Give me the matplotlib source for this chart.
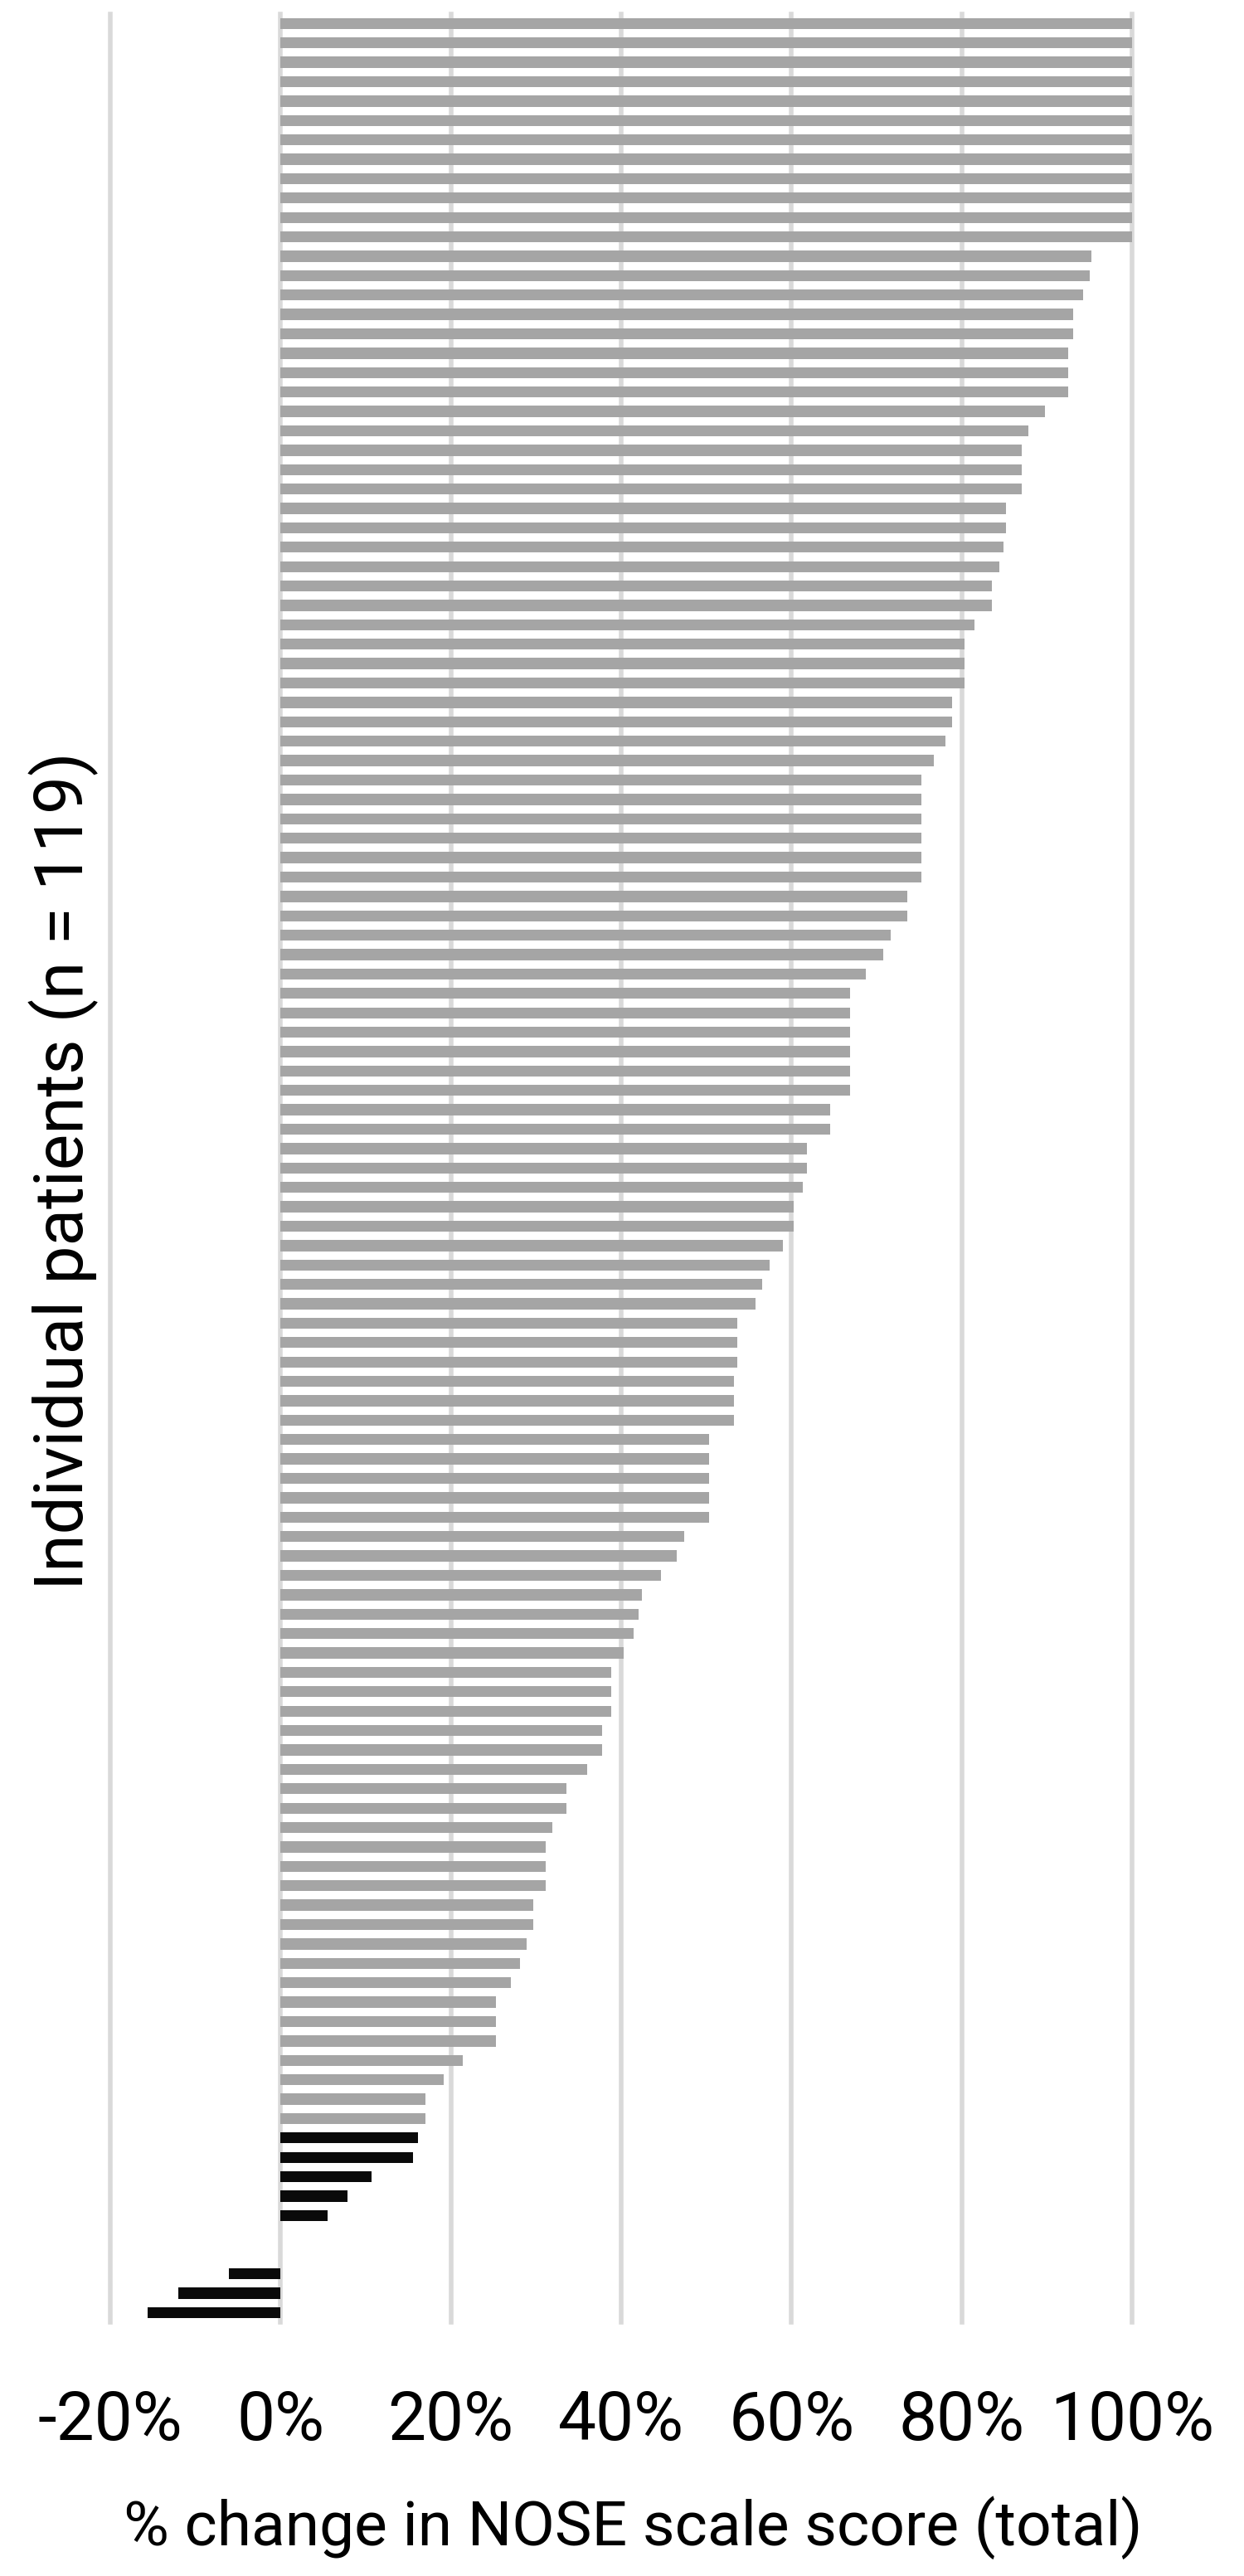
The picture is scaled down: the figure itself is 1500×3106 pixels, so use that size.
import matplotlib
matplotlib.use("Agg")
import matplotlib.pyplot as plt

# % change in NOSE scale score per patient (top to bottom, as shown)
pct_change = [
    100, 100, 100, 100, 100, 100, 100, 100, 100, 100, 100, 100,
    95.2, 95.0, 94.3, 93.1, 93.1, 92.5, 92.5, 92.5, 89.8, 87.8, 87.0, 87.0,
    87.0, 85.2, 85.2, 84.9, 84.4, 83.5, 83.5, 81.5, 80.3, 80.3, 80.3, 78.9,
    78.9, 78.1, 76.7, 75.3, 75.3, 75.3, 75.3, 75.3, 75.3, 73.6, 73.6, 71.7,
    70.8, 68.7, 66.9, 66.9, 66.9, 66.9, 66.9, 66.9, 64.5, 64.5, 61.8, 61.8,
    61.3, 60.3, 60.3, 59.0, 57.4, 56.6, 55.8, 53.6, 53.6, 53.6, 53.2, 53.2,
    53.2, 50.3, 50.3, 50.3, 50.3, 50.3, 47.4, 46.5, 44.7, 42.4, 42.0, 41.5,
    40.3, 38.8, 38.8, 38.8, 37.8, 37.8, 36.0, 33.6, 33.6, 31.9, 31.1, 31.1,
    31.1, 29.7, 29.7, 28.9, 28.1, 27.0, 25.3, 25.3, 25.3, 21.4, 19.2, 17.0,
    17.0, 16.1, 15.6, 10.7, 7.9, 5.5, 0.0, 0.0, -6.1, -12.0, -15.6,
]
# group of each bar: "above" = grey bars, "below" = black bars
group = ["above"] * 109 + ["below"] * 10

x_ticks = [-20, 0, 20, 40, 60, 80, 100]
x_tick_labels = ["-20%", "0%", "20%", "40%", "60%", "80%", "100%"]
x_title = "% change in NOSE scale score (total)"
y_title = "Individual patients (n = 119)"

group_colors = {"above": "#A5A5A5", "below": "#0A0A0A"}

plt.rcParams['font.family'] = ['Roboto', 'DejaVu Sans']

fig = plt.figure(figsize=(15, 31.06), dpi=100)
ax = fig.add_axes([133/1500, 1 - 2800/3106, (1365-133)/1500, (2800-16.6)/3106])

positions = list(range(len(pct_change)))
colors = [group_colors[g] for g in group]
ax.barh(positions, pct_change, height=0.57, color=colors, zorder=2)

for t in x_ticks:
    ax.axvline(t, color="#D9D9D9", linewidth=4.0, zorder=1, clip_on=False)

ax.set_xlim(-20, 100)
ax.set_ylim(len(pct_change) - 0.5, -0.5)
ax.set_xticks(x_ticks)
ax.set_xticklabels(x_tick_labels)
ax.set_yticks([])
ax.tick_params(axis='x', length=0, pad=58, labelsize=59)
for s in ax.spines.values():
    s.set_visible(False)

fig.text(0.509, (3106 - 3069) / 3106, x_title, ha='center', va='baseline', fontsize=54)
fig.text(0.0515, 1 - 1412 / 3106, y_title, rotation=90, ha='center', va='center', fontsize=59)

fig.savefig("out.png", dpi=100)
